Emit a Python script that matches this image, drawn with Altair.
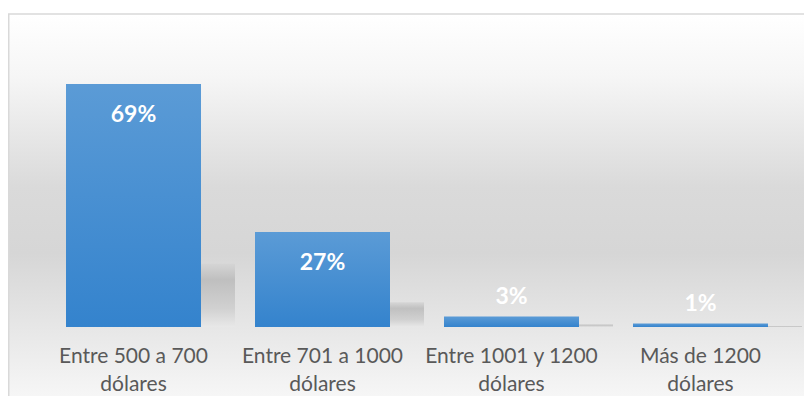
import altair as alt
import pandas as pd

categories = [
    "Entre 500 a 700\ndólares",
    "Entre 701 a 1000\ndólares",
    "Entre 1001 y 1200\ndólares",
    "Más de 1200\ndólares",
]
values = [69, 27, 3, 1]
labels = ["69%", "27%", "3%", "1%"]

df = pd.DataFrame({"cat": categories, "value": values, "label": labels})

W, H = 796, 388
FONT = "Lato"

x_enc = alt.X(
    "cat:N",
    sort=categories,
    scale=alt.Scale(range=[31, 787], paddingInner=0.2857, paddingOuter=0.1429),
    axis=alt.Axis(
        title=None, orient="bottom", offset=-51, domain=False, ticks=False,
        tickSize=0, labelPadding=0, labelAngle=0, labelBaseline="top",
        labelExpr="split(datum.label, '\\n')", labelLineHeight=28,
        labelFont=FONT, labelFontSize=21, labelColor="#595959", labelLimit=300,
        grid=False, zindex=2,
    ),
)
y_scale = alt.Scale(domain=[-19.6, 90.6], nice=False, zero=False)
y_enc = alt.Y("value:Q", scale=y_scale, axis=None)

bg = alt.Chart(df.head(1)).mark_rect(
    fill=alt.Gradient(
        gradient="linear", x1=0, y1=0, x2=0, y2=1,
        stops=[
            alt.GradientStop(offset=0.0, color="#ffffff"),
            alt.GradientStop(offset=0.15, color="#f6f6f6"),
            alt.GradientStop(offset=0.42, color="#dadada"),
            alt.GradientStop(offset=0.58, color="#d6d6d6"),
            alt.GradientStop(offset=0.82, color="#ececec"),
            alt.GradientStop(offset=1.0, color="#fdfdfd"),
        ],
    ),
    stroke="#d9d9d9", strokeWidth=1.5,
).encode(x=alt.value(0.75), x2=alt.value(W + 30), y=alt.value(6), y2=alt.value(H + 30))

shadow = alt.Chart(df).transform_calculate(
    sh="datum.value * 0.26"
).mark_bar(
    xOffset=34,
    fill=alt.Gradient(
        gradient="linear", x1=0, y1=0, x2=0, y2=1,
        stops=[
            alt.GradientStop(offset=0.0, color="#d4d4d4"),
            alt.GradientStop(offset=0.25, color="#bababa"),
            alt.GradientStop(offset=0.7, color="#cdcdcd"),
            alt.GradientStop(offset=1.0, color="#e8e8e8"),
        ],
    ),
    opacity=0.85,
).encode(x=x_enc, y=alt.Y("sh:Q", scale=y_scale, axis=None))

bars = alt.Chart(df).mark_bar(
    fill=alt.Gradient(
        gradient="linear", x1=0, y1=0, x2=0, y2=1,
        stops=[
            alt.GradientStop(offset=0.0, color="#5b9bd6"),
            alt.GradientStop(offset=1.0, color="#3483cd"),
        ],
    ),
).encode(x=x_enc, y=y_enc)

big = alt.Chart(df).transform_filter("datum.value >= 10").mark_text(
    font=FONT, fontSize=23, fontWeight="bold", color="#ffffff",
    baseline="middle", align="center", dy=31,
).encode(x=x_enc, y=y_enc, text="label:N")

small = alt.Chart(df).transform_filter("datum.value < 10").mark_text(
    font=FONT, fontSize=23, fontWeight="bold", color="#ffffff",
    baseline="bottom", align="center", dy=-7,
).encode(x=x_enc, y=y_enc, text="label:N")

chart = alt.layer(bg, shadow, bars, big, small).properties(
    width=W, height=H,
    autosize=alt.AutoSizeParams(type="none"),
    padding=0,
    background="#ffffff",
).configure_view(stroke=None)

chart.save("out.html", embed_options={"renderer": "svg", "actions": False})
